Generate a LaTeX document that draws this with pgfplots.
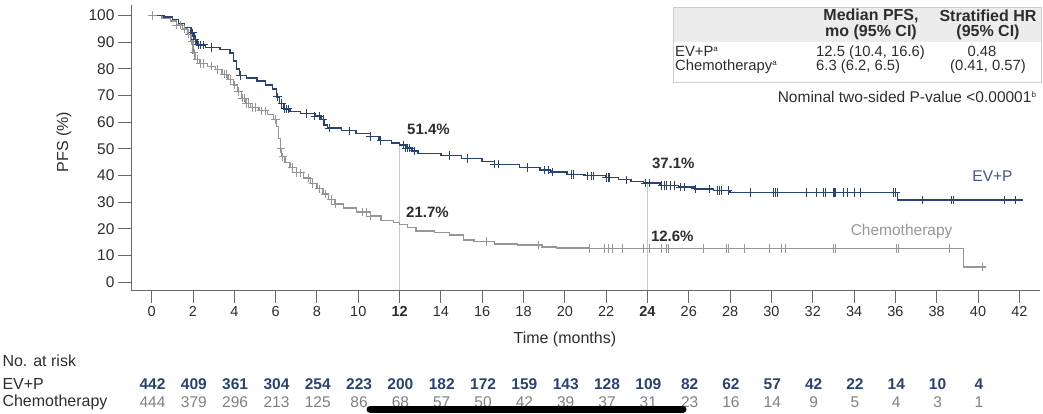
\documentclass[border=0pt]{standalone}
\usepackage{fontspec}
\setmainfont{Liberation Sans}
\usepackage{pgfplots}
\pgfplotsset{compat=1.18}

\definecolor{evp}{RGB}{40,66,116}
\definecolor{evplabel}{RGB}{62,88,138}
\definecolor{chemo}{RGB}{150,150,150}
\definecolor{chemotxt}{RGB}{128,128,128}
\definecolor{axisgray}{RGB}{105,105,105}
\definecolor{txt}{RGB}{45,45,45}
\definecolor{hdr}{RGB}{236,236,236}
\definecolor{frame}{RGB}{205,205,205}

\newcommand{\fs}{\fontsize{15}{17}\selectfont}
\newcommand{\fsr}{\fontsize{15.5}{17}\selectfont}
\newcommand{\fst}{\fontsize{14.8}{16}\selectfont}

\begin{document}
\begin{tikzpicture}[x=1pt,y=1pt]
\useasboundingbox (0,0) rectangle (1043,413);
\begin{axis}[
  at={(131pt,123pt)}, anchor=south west,
  scale only axis, width=909pt, height=285pt,
  xmin=-1, xmax=43, ymin=-3, ymax=104,
  axis x line=bottom, axis y line=left,
  axis line style={axisgray, line width=0.9pt, -},
  xtick={0,2,...,42},
  xticklabels={0,2,4,6,8,10,\textbf{12},14,16,18,20,22,\textbf{24},26,28,30,32,34,36,38,40,42},
  ytick={0,10,...,100},
  yticklabels={0,10,20,30,40,50,60,70,80,90,100},
  tick align=outside, major tick length=13pt,
  tick style={axisgray, line width=0.9pt},
  xticklabel style={font=\fontsize{14.5}{16}\selectfont, text=txt},
  yticklabel style={font=\fsr, text=txt},
  clip=false,
]
% landmark lines at 12 and 24 months
\addplot[gray!45, line width=0.6pt] coordinates {(12,-3) (12,51.4)};
\addplot[gray!45, line width=0.6pt] coordinates {(24,-3) (24,37.1)};

% Chemotherapy arm
\addplot[const plot, chemo, line width=1.3pt] coordinates {
(0,100) (0.5,99) (0.9,98) (1.2,96.5) (1.5,95) (1.75,93) (1.9,90.5) (2.0,86)
(2.1,83.5) (2.3,82) (2.7,81) (3.1,79.8) (3.4,78) (3.7,76) (3.95,74) (4.15,71.5)
(4.35,69) (4.55,67) (4.8,65.5) (5.2,64.3) (5.6,62.8) (5.9,61) (6.05,58.5)
(6.15,54) (6.22,50) (6.3,47) (6.45,45) (6.7,43) (7.0,41) (7.35,39) (7.7,37)
(8.0,35) (8.3,33) (8.55,31) (8.85,29.3) (9.3,27.8) (9.9,26.3) (10.6,24.8)
(11.1,23.2) (11.7,22.3) (12.0,21.7) (12.4,20.5) (12.8,19.2) (13.7,18.5)
(14.4,17.6) (15.1,15.8) (15.6,15.2) (16.6,14.3) (17.7,13.9) (18.9,13.2)
(19.6,12.8) (21.2,12.6) (39.3,5.6) (40.4,5.6)};
\addplot[only marks, mark=+, mark size=4.2pt, chemo, mark options={line width=0.9pt}] coordinates {
(0.05,100) (1.2,96.5) (1.4,96.5) (1.6,95) (1.8,93) (1.95,90.5) (2.05,86) (2.2,83.5)
(2.35,82) (2.5,82) (2.9,81) (3.2,79.8) (3.5,78) (3.6,78) (3.8,76) (4.0,74) (4.2,71.5)
(4.4,69) (4.5,69) (4.6,67) (4.7,67) (4.9,65.5) (5.0,65.5) (5.3,64.3) (5.5,64.3)
(6.0,61) (6.25,50) (6.35,47) (6.8,43) (7.0,41) (7.2,41) (7.6,39) (7.8,37) (8.1,35)
(8.4,33) (8.7,31) (8.9,29.3) (10.2,26.3) (10.4,26.3) (10.6,24.8) (16.2,15.2)
(18.7,13.9) (21.2,12.6) (21.9,12.6) (22.1,12.6) (22.3,12.6) (22.8,12.6) (23.8,12.6)
(24.1,12.6) (24.7,12.6) (24.9,12.6) (25.0,12.6) (26.7,12.6) (27.8,12.6) (27.9,12.6)
(28.7,12.6) (29.9,12.6) (30.5,12.6) (30.7,12.6) (33.0,12.6) (33.1,12.6) (36.05,12.6)
(36.15,12.6) (38.6,12.6) (40.2,5.6)};

% EV+P arm
\addplot[const plot, evp, line width=1.5pt] coordinates {
(0,100) (0.6,99.5) (1.0,98.5) (1.3,97) (1.6,95.5) (1.9,93.5) (2.05,91) (2.2,89)
(2.6,88) (3.3,87.3) (3.8,86) (3.95,83) (4.1,80) (4.25,77.5) (4.6,76.5) (5.1,75.5)
(5.5,74) (5.85,72.5) (6.05,69.5) (6.2,67) (6.4,65) (6.7,64) (7.2,63.3) (7.9,62.3)
(8.2,61) (8.35,59) (8.5,57.8) (9.2,56.8) (9.9,55.8) (10.6,54.6) (11.0,53.2)
(11.6,52.2) (12.0,51.4) (12.3,50.3) (12.6,49.2) (12.9,48.3) (14.0,47.5) (15.0,46.3)
(16.0,45.2) (16.6,44.2) (17.8,43.0) (18.8,42.0) (19.3,41.3) (20.1,40.4) (21.0,39.9)
(22.0,39.2) (22.6,38.4) (23.2,37.7) (23.8,37.1) (24.6,36.3) (25.5,35.6) (26.3,35.0)
(27.2,34.3) (28.0,33.6) (36.1,30.8) (42.2,30.8)};
\addplot[only marks, mark=+, mark size=4.2pt, evp, mark options={line width=1pt}] coordinates {
(2.0,93.5) (2.1,91) (2.25,89) (2.35,89) (2.5,89) (2.9,88) (4.3,77.5) (6.1,69.5)
(6.3,67) (6.45,65) (6.55,65) (6.6,65) (7.5,63.3) (7.9,62.3) (8.1,62.3) (8.3,61)
(8.6,57.8) (9.6,56.8) (10.6,54.6) (11.1,53.2) (12.2,51.4) (12.3,50.3) (12.4,50.3)
(12.5,50.3) (12.7,49.2) (14.4,47.5) (15.3,46.3) (16.6,44.2) (16.8,44.2) (18.2,43.0)
(19.0,42.0) (19.2,42.0) (19.4,41.3) (20.3,40.4) (20.4,40.4) (21.1,39.9) (21.3,39.9)
(21.4,39.9) (22.0,39.2) (22.1,39.2) (22.15,39.2) (23.0,38.4) (23.9,37.1) (24.1,37.1)
(24.7,36.3) (24.8,36.3) (24.9,36.3) (25.1,36.3) (25.3,36.3) (25.6,35.6) (25.8,35.6)
(26.3,35.0) (27.0,35.0) (27.4,34.3) (27.5,34.3) (27.6,34.3) (27.9,34.3) (29.0,33.6)
(30.1,33.6) (30.2,33.6) (30.3,33.6) (31.7,33.6) (32.2,33.6) (32.5,33.6) (32.6,33.6)
(33.0,33.6) (33.05,33.6) (33.1,33.6) (33.5,33.6) (33.7,33.6) (34.0,33.6) (34.3,33.6)
(35.9,33.6) (36.0,33.6) (37.3,30.8) (38.7,30.8) (38.8,30.8) (41.3,30.8) (41.8,30.8)};

% landmark values
\node[anchor=west, font=\fs\bfseries, text=txt] at (axis cs:12.2,57.5) {51.4\%};
\node[anchor=west, font=\fs\bfseries, text=txt] at (axis cs:12.15,26.3) {21.7\%};
\node[anchor=west, font=\fs\bfseries, text=txt] at (axis cs:24.05,44.7) {37.1\%};
\node[anchor=west, font=\fs\bfseries, text=txt] at (axis cs:24.0,17.3) {12.6\%};

% arm labels
\node[font=\fsr, text=evplabel] at (axis cs:40.7,39.8) {EV+P};
\node[font=\fsr, text=chemo] at (axis cs:36.3,18.8) {Chemotherapy};

% horizontal axis title
\node[font=\fontsize{16}{18}\selectfont, text=txt] at (axis cs:20,-3) [yshift=-49pt] {Time (months)};
\end{axis}

% vertical axis title
\node[font=\fontsize{16}{18}\selectfont, text=txt, rotate=90] at (64,271) {PFS (\%)};

% summary table
\fill[hdr] (673,371) rectangle (1041,406);
\draw[frame, line width=0.8pt] (673,331) rectangle (1041,406);
\node[font=\fontsize{16}{18}\selectfont\bfseries, text=txt] at (871,397) {Median PFS,};
\node[font=\fontsize{16}{18}\selectfont\bfseries, text=txt] at (871,381) {mo (95\% CI)};
\node[font=\fontsize{16}{18}\selectfont\bfseries, text=txt] at (988,397) {Stratified HR};
\node[font=\fontsize{16}{18}\selectfont\bfseries, text=txt] at (988,381) {(95\% CI)};
\begin{scope}[every node/.style={font=\fst, text=txt, inner sep=0pt}]
\node[anchor=base west] at (675,356) {EV+P\textsuperscript{\fontsize{8}{8}\selectfont a}};
\node[anchor=base west] at (675,342) {Chemotherapy\textsuperscript{\fontsize{8}{8}\selectfont a}};
\node[anchor=base west] at (816,356) {12.5 (10.4, 16.6)};
\node[anchor=base west] at (816,342) {6.3 (6.2, 6.5)};
\node[anchor=base] at (982,356) {0.48};
\node[anchor=base] at (988,342) {(0.41, 0.57)};
\end{scope}
\node[font=\fsr, text=txt, anchor=east] at (1040,316) {Nominal two-sided P-value <0.00001\textsuperscript{\fontsize{8}{8}\selectfont b}};

% number at risk
\node[font=\fontsize{16}{18}\selectfont, text=txt, anchor=west] at (-1,52) {No. at risk};
\node[font=\fontsize{16}{18}\selectfont, text=txt, anchor=west] at (-1,29) {EV+P};
\node[font=\fontsize{16}{18}\selectfont, text=txt, anchor=west] at (-1,11) {Chemotherapy};
\foreach \v [count=\i from 0] in {442,409,361,304,254,223,200,182,172,159,143,128,109,82,62,57,42,22,14,10,4}
  \node[font=\fsr\bfseries, text=evp] at (152.5+41.32*\i,29) {\v};
\foreach \v [count=\i from 0] in {444,379,296,213,125,86,68,57,50,42,39,37,31,23,16,14,9,5,4,3,1}
  \node[font=\fsr, text=chemotxt] at (152.5+41.32*\i,11) {\v};
\draw[black, line width=7pt, line cap=round] (370,4) -- (683,4);
\end{tikzpicture}
\end{document}
